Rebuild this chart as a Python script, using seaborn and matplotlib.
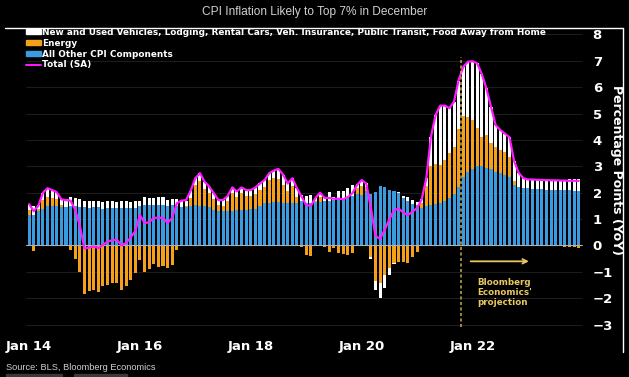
import numpy as np
import pandas as pd
import seaborn as sns
import matplotlib.pyplot as plt
from matplotlib.patches import Patch, Rectangle
from matplotlib.lines import Line2D
from matplotlib import font_manager

# monthly, Jan 2014 - Dec 2023 (Dec 2021 onwards is the projection)
months = pd.date_range('2014-01-01', '2023-12-01', freq='MS')

tick_pos = [0, 24, 48, 72, 96]
tick_labels = ['Jan 14', 'Jan 16', 'Jan 18', 'Jan 20', 'Jan 22']

all_other = [
    1.15, 1.15, 1.30, 1.38, 1.48, 1.50, 1.50, 1.47, 1.47, 1.50, 1.50, 1.47,
    1.45, 1.42, 1.45, 1.45, 1.40, 1.42, 1.42, 1.42, 1.43, 1.42, 1.42, 1.42,
    1.50, 1.55, 1.55, 1.55, 1.55, 1.55, 1.50, 1.53, 1.50, 1.45, 1.45, 1.50,
    1.53, 1.50, 1.50, 1.45, 1.35, 1.30, 1.30, 1.30, 1.32, 1.33, 1.33, 1.33,
    1.38, 1.40, 1.50, 1.60, 1.62, 1.65, 1.63, 1.60, 1.62, 1.62, 1.60, 1.68,
    1.60, 1.62, 1.65, 1.65, 1.68, 1.70, 1.72, 1.75, 1.75, 1.80, 1.88, 1.95,
    1.92, 2.05, 1.95, 2.04, 2.25, 2.20, 2.10, 2.05, 2.00, 1.79, 1.70, 1.58,
    1.55, 1.42, 1.50, 1.52, 1.58, 1.60, 1.70, 1.80, 1.95, 2.20, 2.60, 2.80,
    2.90, 3.00, 3.00, 2.95, 2.90, 2.80, 2.73, 2.66, 2.58, 2.30, 2.22, 2.19,
    2.16, 2.15, 2.14, 2.13, 2.12, 2.12, 2.11, 2.10, 2.10, 2.09, 2.08, 2.08,
]

energy = [
    0.20, -0.22, 0.10, 0.35, 0.35, 0.30, 0.25, 0.05, -0.03, -0.16, -0.52, -0.99,
    -1.83, -1.74, -1.70, -1.78, -1.55, -1.49, -1.43, -1.43, -1.70, -1.55, -1.30, -1.05,
    -0.54, -0.99, -0.90, -0.70, -0.80, -0.77, -0.86, -0.73, -0.16, 0.00, 0.05, 0.30,
    0.75, 0.95, 0.65, 0.55, 0.40, 0.22, 0.20, 0.38, 0.65, 0.50, 0.65, 0.55,
    0.50, 0.55, 0.60, 0.63, 0.85, 0.90, 0.90, 0.70, 0.45, 0.65, 0.25, -0.05,
    -0.35, -0.40, 0.05, 0.20, -0.05, -0.23, -0.08, -0.30, -0.33, -0.35, -0.30, 0.22,
    0.35, 0.15, -0.42, -1.36, -1.43, -1.10, -0.86, -0.67, -0.62, -0.62, -0.68, -0.45,
    -0.23, 0.18, 0.75, 1.50, 1.50, 1.45, 1.55, 1.70, 1.80, 2.20, 2.30, 2.05,
    1.87, 1.45, 1.12, 1.25, 0.97, 0.95, 0.90, 0.89, 0.78, 0.15, -0.03, -0.02,
    0.00, -0.02, 0.00, -0.03, -0.02, 0.00, -0.02, -0.03, -0.04, -0.06, -0.07, -0.08,
]

vehicles_etc = [
    0.20, 0.35, 0.12, 0.25, 0.32, 0.30, 0.27, 0.23, 0.28, 0.33, 0.30, 0.28,
    0.25, 0.27, 0.25, 0.25, 0.23, 0.27, 0.27, 0.24, 0.27, 0.25, 0.22, 0.25,
    0.20, 0.27, 0.25, 0.25, 0.28, 0.27, 0.24, 0.25, 0.25, 0.25, 0.20, 0.28,
    0.27, 0.29, 0.27, 0.23, 0.23, 0.20, 0.22, 0.20, 0.23, 0.22, 0.22, 0.22,
    0.22, 0.25, 0.25, 0.25, 0.27, 0.29, 0.37, 0.38, 0.28, 0.28, 0.32, 0.22,
    0.28, 0.28, 0.10, 0.15, 0.17, 0.33, 0.13, 0.32, 0.33, 0.38, 0.40, 0.15,
    0.18, 0.15, -0.10, -0.32, -0.57, -0.50, -0.25, -0.05, 0.02, 0.08, 0.13, 0.15,
    0.10, 0.15, 0.30, 1.10, 1.85, 2.25, 2.05, 1.70, 1.70, 1.85, 1.87, 2.10,
    2.20, 2.45, 2.38, 1.75, 1.39, 0.81, 0.75, 0.69, 0.74, 0.75, 0.53, 0.38,
    0.34, 0.33, 0.35, 0.35, 0.36, 0.38, 0.38, 0.40, 0.40, 0.42, 0.44, 0.45,
]

total_sa = [
    1.57, 1.30, 1.50, 2.00, 2.17, 2.10, 2.02, 1.75, 1.72, 1.70, 1.35, 0.75,
    -0.12, -0.08, -0.04, -0.10, 0.02, 0.15, 0.20, 0.22, 0.00, 0.10, 0.30, 0.55,
    1.16, 0.85, 0.88, 1.05, 1.05, 1.05, 0.85, 1.05, 1.60, 1.70, 1.72, 2.08,
    2.55, 2.74, 2.42, 2.23, 1.98, 1.72, 1.72, 1.88, 2.20, 2.05, 2.20, 2.10,
    2.10, 2.20, 2.35, 2.48, 2.74, 2.84, 2.90, 2.68, 2.35, 2.55, 2.17, 1.85,
    1.53, 1.50, 1.80, 2.00, 1.80, 1.80, 1.77, 1.77, 1.75, 1.83, 1.98, 2.29,
    2.48, 2.35, 1.42, 0.36, 0.25, 0.60, 0.99, 1.33, 1.40, 1.25, 1.15, 1.28,
    1.42, 1.75, 2.55, 4.12, 4.94, 5.30, 5.30, 5.20, 5.45, 6.27, 6.77, 6.96,
    6.98, 6.90, 6.50, 5.95, 5.26, 4.56, 4.38, 4.24, 4.10, 3.20, 2.75, 2.55,
    2.50, 2.50, 2.49, 2.48, 2.48, 2.47, 2.47, 2.46, 2.46, 2.45, 2.45, 2.45,
]

proj_start = 93.6   # last actual print (Nov 21)

BLUE = '#3a9be0'
ORANGE = '#f5a01a'
WHITE = '#ffffff'
MAGENTA = '#ff1aff'
GOLD = '#e8c860'

sns.set_theme(style='dark', rc={'axes.facecolor': 'black', 'figure.facecolor': 'black',
                                'text.color': 'white', 'xtick.color': 'white',
                                'ytick.color': 'white'})
plt.rcParams['font.family'] = ['DejaVu Sans']


def pick_font(names):
    for n in names:
        try:
            font_manager.findfont(n, fallback_to_default=False)
            return n
        except Exception:
            pass
    return 'DejaVu Sans'


narrow = pick_font(['Liberation Sans Narrow', 'Liberation Sans'])

df = pd.DataFrame({'month': months, 'i': np.arange(len(months)),
                   'other': all_other, 'energy': energy,
                   'veh': vehicles_etc, 'total': total_sa})

e_pos = df['energy'].clip(lower=0)
e_neg = df['energy'].clip(upper=0)
w_bottom = np.where(df['veh'] >= 0, df['other'] + e_pos, e_neg)

fig = plt.figure(figsize=(6.29, 3.77), dpi=100)
ax = fig.add_axes([19.8 / 629, 1 - 332.6 / 377, (585.7 - 19.8) / 629, (332.6 - 26.4) / 377])
ax.set_facecolor('black')

# faint grid + zero line
ax.hlines(range(-3, 9), -0.6, 119.6, color='#1c1c1c', lw=0.8, zorder=0)
bw = 0.66
ax.bar(df['i'], df['other'], width=bw, color=BLUE, lw=0, zorder=2)
ax.bar(df['i'], df['energy'], bottom=np.where(df['energy'] >= 0, df['other'], 0),
       width=bw, color=ORANGE, lw=0, zorder=2)
ax.bar(df['i'], df['veh'], bottom=w_bottom, width=bw, color=WHITE, lw=0, zorder=2)
ax.plot([-0.6, 119.6], [0, 0], color='#b0b0b0', lw=0.8, zorder=3)

sns.lineplot(data=df, x='i', y='total', color=MAGENTA, lw=1.6, ax=ax, zorder=4)

# projection marker
ax.plot([proj_start, proj_start], [-3.1, 7.15], color='#c9a94e', lw=1.1,
        ls=(0, (2, 1.6)), zorder=5)
ax.annotate('', xy=(108.8, -0.6), xytext=(95, -0.6),
            arrowprops=dict(arrowstyle='->', color=GOLD, lw=1.3, mutation_scale=8))
ax.text(97, -1.22, "Bloomberg\nEconomics'\nprojection", color=GOLD, fontsize=6.3,
        fontweight='bold', va='top', ha='left', linespacing=1.15)

ax.set_xlim(-2, 120.5)
ax.set_ylim(-3.3, 8.3)
ax.set_xticks(tick_pos)
ax.set_xticklabels(tick_labels)
ax.yaxis.tick_right()
ax.set_yticks(range(-3, 9))
ax.tick_params(axis='x', length=0, pad=5, labelsize=9.5)
ax.tick_params(axis='y', length=0, pad=5, labelsize=9.5)
for lab in ax.get_xticklabels() + ax.get_yticklabels():
    lab.set_fontweight('bold')
ax.set_xlabel('')
ax.set_ylabel('')
ax.grid(False)
for s in ax.spines.values():
    s.set_visible(False)

fig.text(617 / 629, 1 - 170 / 377, 'Percentage Points (YoY)', rotation=270,
         ha='center', va='center', fontsize=9, fontweight='bold', color='white')

handles = [Patch(color=WHITE), Patch(color=ORANGE), Patch(color=BLUE),
           Line2D([], [], color=MAGENTA, lw=1.4)]
labels = ['New and Used Vehicles, Lodging, Rental Cars, Veh. Insurance, Public Transit, Food Away from Home',
          'Energy', 'All Other CPI Components', 'Total (SA)']
ax.legend(handles, labels, loc='upper left', bbox_to_anchor=(26 / 629, 1 - 28 / 377),
          bbox_transform=fig.transFigure, frameon=False, borderpad=0, borderaxespad=0,
          prop={'size': 6.4, 'weight': 'bold'}, labelcolor='white', handlelength=1.65,
          handleheight=0.45, handletextpad=0.2, labelspacing=0.2)

# title, source, frame
fig.text(0.5, 1 - 12 / 377, 'CPI Inflation Likely to Top 7% in December', ha='center',
         va='center', fontsize=8.6, color='#d0d0d0', family=narrow)
fig.text(6 / 629, 1 - 367 / 377, 'Source: BLS, Bloomberg Economics', ha='left',
         va='center', fontsize=6.7, color='#d0d0d0', family=narrow)
fig.add_artist(Line2D([5 / 629, 623 / 629], [1 - 28 / 377, 1 - 28 / 377],
                      color='white', lw=1.0, transform=fig.transFigure))
fig.add_artist(Line2D([623 / 629, 623 / 629], [1 - 28 / 377, 1 - 352 / 377],
                      color='white', lw=1.0, transform=fig.transFigure))
for x0, x1 in [(6, 62), (74, 127)]:
    fig.add_artist(Rectangle((x0 / 629, 0), (x1 - x0) / 629, 3 / 377,
                             color='#3a3a3a', transform=fig.transFigure))

fig.savefig('out.png', dpi=100, facecolor='black')
